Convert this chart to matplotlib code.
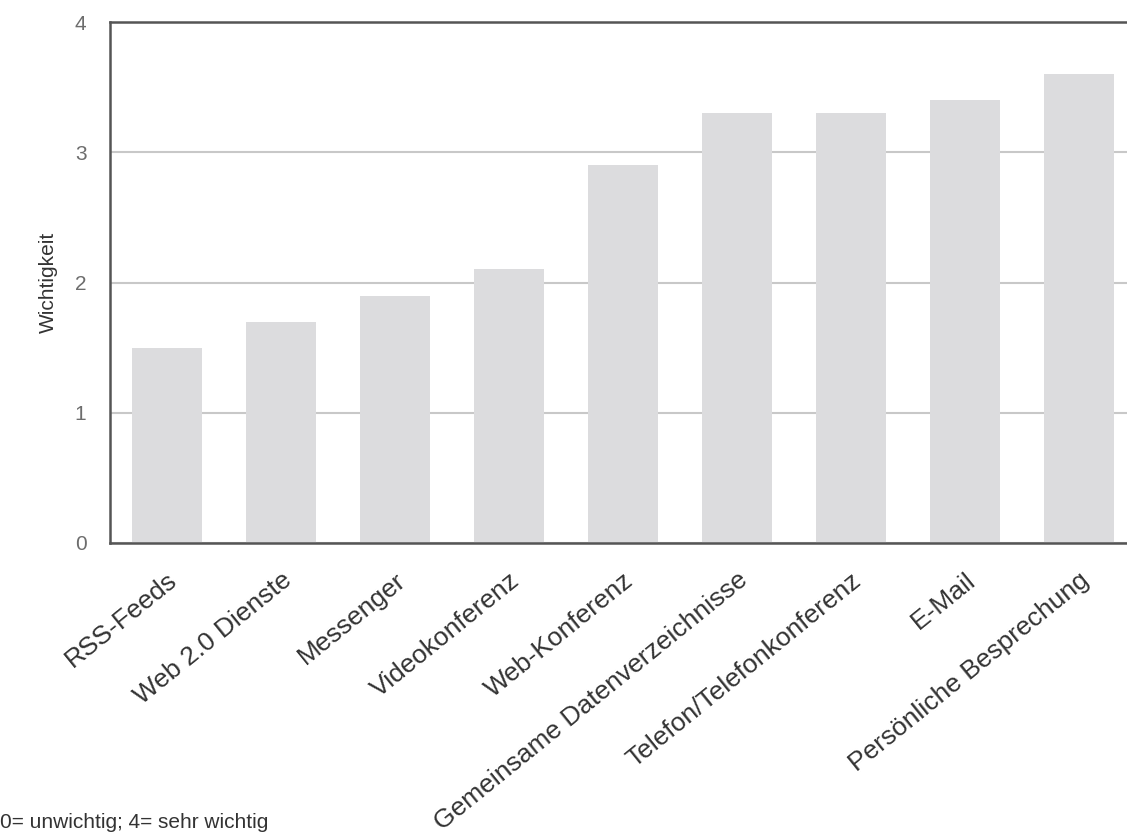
import matplotlib
matplotlib.use("Agg")
import matplotlib.pyplot as plt

categories = ["RSS-Feeds", "Web 2.0 Dienste", "Messenger", "Videokonferenz",
              "Web-Konferenz", "Gemeinsame Datenverzeichnisse",
              "Telefon/Telefonkonferenz", "E-Mail", "Persönliche Besprechung"]
values = [1.5, 1.7, 1.9, 2.1, 2.9, 3.3, 3.3, 3.4, 3.6]
yticks = [0, 1, 2, 3, 4]

plt.rcParams['font.family'] = ['Liberation Sans', 'DejaVu Sans']

fig = plt.figure(figsize=(11.27, 8.36), dpi=100)
ax = fig.add_axes([110/1127, 1-543/836, (1136-110)/1127, (543-22)/836])

x = list(range(len(categories)))
ax.bar(x, values, width=0.615, color='#dcdcde', zorder=2)
ax.set_xlim(-0.5, len(categories)-0.5)
ax.set_ylim(0, 4)
ax.set_yticks(yticks)
ax.set_yticklabels([str(t) for t in yticks])
ax.yaxis.grid(True, color='#c8c8c8', linewidth=1.5, zorder=0)
ax.set_axisbelow(True)

for s in ['left', 'bottom', 'top']:
    ax.spines[s].set_color('#555555')
    ax.spines[s].set_linewidth(1.8)
ax.spines['right'].set_visible(False)

ax.tick_params(axis='y', length=0, pad=17, labelsize=15, labelcolor='#6d6d6d')
ax.tick_params(axis='x', length=0, pad=18, labelsize=19, labelcolor='#333333')
ax.set_xticks(x)
ax.set_xticklabels(categories, rotation=39, ha='right', va='top',
                   rotation_mode='anchor')

ax.set_ylabel("Wichtigkeit", fontsize=15, color='#333333', labelpad=12)

fig.text(0.0, 1-822/836, "0= unwichtig; 4= sehr wichtig", fontsize=15,
         color='#333333', va='center', ha='left')

fig.savefig("out.png", dpi=100)
